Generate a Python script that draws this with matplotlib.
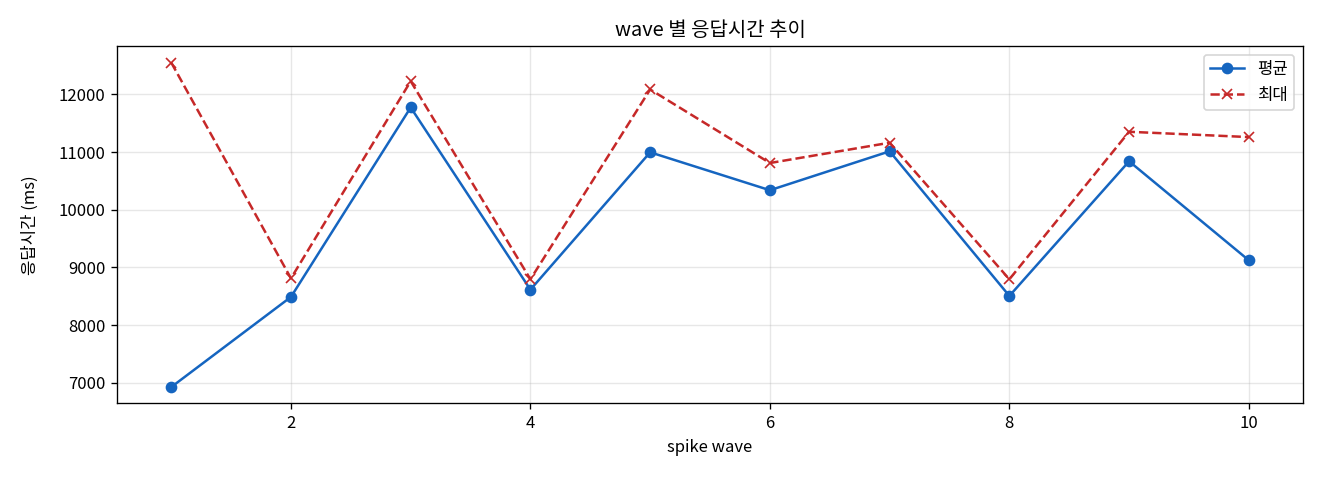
import matplotlib
matplotlib.use("Agg")
import matplotlib.pyplot as plt

plt.rcParams["font.family"] = ["Noto Sans CJK KR", "DejaVu Sans"]
plt.rcParams["axes.unicode_minus"] = False

waves = [1, 2, 3, 4, 5, 6, 7, 8, 9, 10]
avg_ms = [6924, 8488, 11775, 8614, 10997, 10339, 11014, 8505, 10841, 9123]
max_ms = [12554, 8810, 12230, 8794, 12087, 10811, 11163, 8794, 11353, 11261]

fig, ax = plt.subplots(figsize=(11, 4), dpi=120)
ax.plot(waves, avg_ms, marker="o", color="#1565c0", linewidth=1.5, label="평균")
ax.plot(waves, max_ms, marker="x", linestyle="--", color="#c62828", linewidth=1.5, label="최대")
ax.set_title("wave 별 응답시간 추이")
ax.set_xlabel("spike wave")
ax.set_ylabel("응답시간 (ms)", labelpad=12)
ax.grid(True, alpha=0.3)
ax.legend(loc="upper right")
fig.subplots_adjust(left=0.0889, right=0.9869, top=0.9035, bottom=0.1598)
fig.savefig("out.png")
plt.close(fig)
